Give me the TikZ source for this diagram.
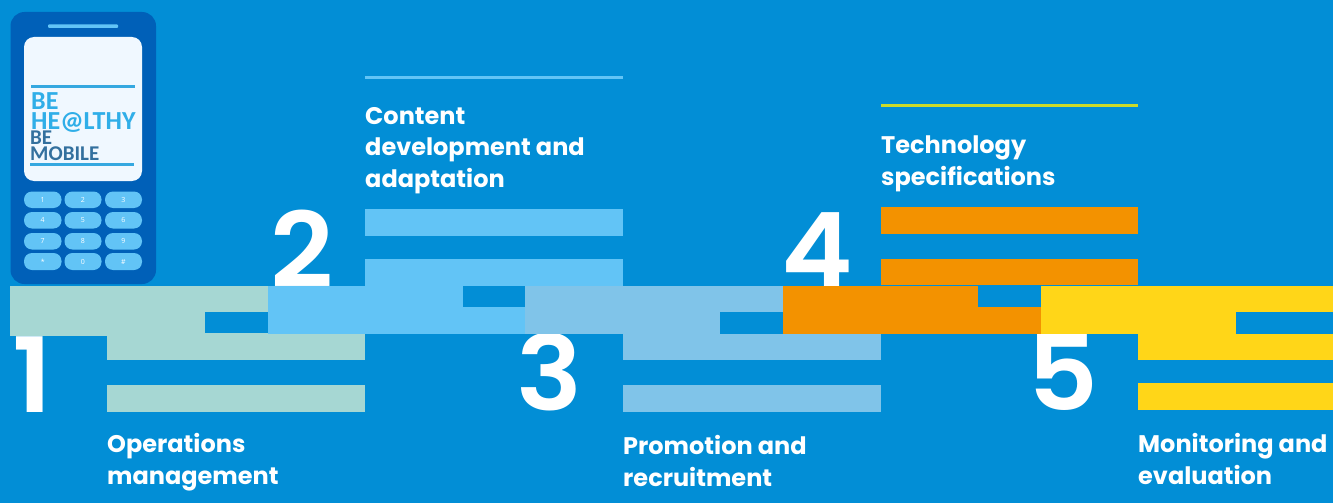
\documentclass[tikz,border=0pt]{standalone}
\usepackage{fontspec}
\setmainfont{Poppins}[BoldFont=* SemiBold]
\newfontfamily\headfont{Poppins}[BoldFont=* Bold]
\newfontfamily\logofont{Carlito}
\newfontfamily\keyfont{Open Sans}
\definecolor{bgblue}{HTML}{028ED6}
\definecolor{mint}{HTML}{A6D7D3}
\definecolor{sky}{HTML}{62C4F6}
\definecolor{pale}{HTML}{80C4E9}
\definecolor{orangeb}{HTML}{F39200}
\definecolor{yellowb}{HTML}{FFD618}
\definecolor{phoneblue}{HTML}{0060B8}
\definecolor{screenc}{HTML}{F0F8FF}
\definecolor{logoline}{HTML}{35A8E0}
\definecolor{logoa}{HTML}{2FAEE8}
\definecolor{logob}{HTML}{33709E}
\definecolor{limeline}{HTML}{CBDB2A}
\definecolor{skyline}{HTML}{62C4F6}
\tikzset{
  x=1pt,y=-1pt,
  numeral/.style={anchor=base west,inner sep=0pt,text=white,font=\fontsize{104}{104}\selectfont\bfseries},
  heading/.style={anchor=base west,inner sep=0pt,text=white,align=left,font=\headfont\fontsize{24}{32}\selectfont\bfseries},
  keycap/.style={draw=none,fill=sky,rounded corners=8pt},
  keytext/.style={inner sep=0pt,text=white,font=\keyfont\fontsize{7}{7}\selectfont},
  logotext/.style={anchor=base west,inner sep=0pt},
}
\begin{document}
\begin{tikzpicture}
\useasboundingbox (0,0) rectangle (1333,503);
\fill[bgblue] (0,0) rectangle (1333,503);
% phone
\fill[phoneblue,rounded corners=14pt] (10.5,12) rectangle (156,284);
\fill[sky,rounded corners=1pt] (48,24.5) rectangle (118,28);
\fill[screenc,rounded corners=10pt] (24,37) rectangle (142,181);
\fill[logoline] (31,85) rectangle (135,88);
\fill[logoline] (30,163) rectangle (134,166);
\node[logotext,text=logoa,font=\logofont\bfseries\fontsize{26}{26}\selectfont] (lbe) at (31,109) {BE};
\node[logotext,text=logoa,font=\logofont\bfseries\fontsize{26}{26}\selectfont] (lhe) at (31,129) {HE@LTHY};
\node[logotext,text=logob,font=\logofont\bfseries\fontsize{21}{21}\selectfont] (lbe2) at (30,144) {BE};
\node[logotext,text=logob,font=\logofont\bfseries\fontsize{21}{21}\selectfont] (lmo) at (30,160) {MOBILE};
% keypad
\foreach \n/\xa/\xb/\ya/\yb in {1/24/61.5/191.5/208,2/64.5/101.5/191.5/208,3/105/142/191.5/208,
 4/24/61.5/212/228.5,5/64.5/101.5/212/228.5,6/105/142/212/228.5,
 7/24/61.5/233/249.5,8/64.5/101.5/233/249.5,9/105/142/233/249.5,
 */24/61.5/253/270,0/64.5/101.5/253/270,\#/105/142/253/270}{
  \fill[keycap] (\xa,\ya) rectangle (\xb,\yb);
  \node[keytext] at ({(\xa+\xb)/2},{(\ya+\yb)/2}) {\n};
}
% numerals
\node[numeral] (n1) at (12,412) {\scalebox{1.06}[1]{1}};
\node[numeral] (n2) at (270,287) {\scalebox{1.06}[1]{2}};
\node[numeral] (n3) at (516,410) {\scalebox{1.06}[1]{3}};
\node[numeral] (n4) at (781,287) {\scalebox{1.04}[1]{4}};
\node[numeral] (n5) at (1027,410) {\scalebox{1.06}[1]{5}};
% group 1
\fill[mint] (10,286) rectangle (268,312);
\fill[mint] (10,312) rectangle (205,336);
\fill[mint] (107,333) rectangle (365,360);
\fill[mint] (107,385) rectangle (365,412);
% group 2
\fill[sky] (365,209) rectangle (623,236);
\fill[sky] (365,259) rectangle (623,286);
\fill[sky] (268,286) rectangle (463,334);
\fill[sky] (463,307) rectangle (526,334);
% group 3
\fill[pale] (525,286) rectangle (720,334);
\fill[pale] (720,286) rectangle (783,312);
\fill[pale] (623,334) rectangle (881,360);
\fill[pale] (623,385) rectangle (881,412);
% group 4
\fill[orangeb] (881,207) rectangle (1138,234);
\fill[orangeb] (881,259) rectangle (1138,285);
\fill[orangeb] (783,286) rectangle (978,334);
\fill[orangeb] (978,307) rectangle (1041,334);
% group 5
\fill[yellowb] (1041,286) rectangle (1236,334);
\fill[yellowb] (1236,286) rectangle (1333,312);
\fill[yellowb] (1138,334) rectangle (1333,360);
\fill[yellowb] (1138,383) rectangle (1333,410);
% rules
\fill[skyline] (365,76) rectangle (623,79);
\fill[limeline] (881,104) rectangle (1138,107);
% headings
\node[heading] (h1a) at (107,452) {Operations};
\node[heading] (h1b) at (107,484) {management};
\node[heading] (h2a) at (365,124) {Content};
\node[heading] (h2b) at (365,155) {development and};
\node[heading] (h2c) at (365,187) {adaptation};
\node[heading] (h3a) at (623,454) {Promotion and};
\node[heading] (h3b) at (623,486) {recruitment};
\node[heading] (h4a) at (881,153) {Technology};
\node[heading] (h4b) at (881,185) {specifications};
\node[heading] (h5a) at (1138,452) {Monitoring and};
\node[heading] (h5b) at (1138,484) {evaluation};
\end{tikzpicture}
\end{document}
